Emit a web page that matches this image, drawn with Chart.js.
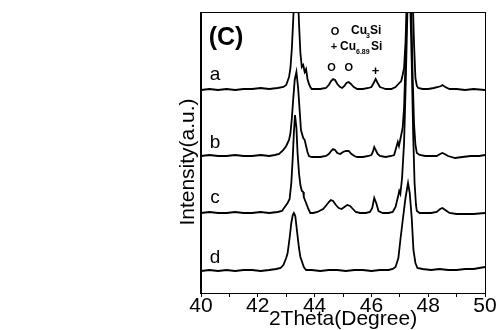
<!DOCTYPE html>
<html><head><meta charset="utf-8">
<script src="https://cdn.jsdelivr.net/npm/chart.js@4.4.1/dist/chart.umd.min.js"></script>
<style>html,body{margin:0;padding:0;background:#fff;}canvas{display:block;}</style>
</head><body>
<canvas id="c" width="498" height="330"></canvas>
<script>
// ---- data (2Theta in degrees, intensity in a.u., curves offset) ----
const xTickValues = [40, 42, 44, 46, 48, 50];
const curveLabels = ['a', 'b', 'c', 'd'];

const thetaA = [40.0,40.3,40.6,40.9,41.2,41.5,41.8,42.1,42.4,42.7,42.9,43.0,43.1,43.15,43.2,43.25,43.3,43.35,43.4,43.45,43.5,43.55,43.6,43.65,43.7,43.75,43.8,43.85,43.9,44.0,44.2,44.4,44.5,44.58,44.65,44.72,44.8,44.9,44.97,45.05,45.12,45.2,45.28,45.38,45.5,45.7,45.9,46.0,46.08,46.15,46.22,46.3,46.4,46.5,46.7,46.85,46.95,47.05,47.1,47.15,47.2,47.25,47.35,47.45,47.5,47.55,47.6,47.65,47.8,48.0,48.2,48.35,48.45,48.5,48.6,48.75,49.0,49.3,49.6,50.0];
const intensityA = [203,204,203,204,203,204,204,205,204,205,206,208,216,225,245,275,310,330,310,270,240,226,228,221,224,214,209,206,204,204,204,205,208,212,214,213,209,206,205,207,210,211,209,206,204,204,205,206,210,214,210,206,205,204,204,206,209,212,218,225,250,290,340,300,250,215,207,205,204,204,205,206,207,208,206,204,204,203,204,203];

const thetaB = [40.0,40.3,40.6,40.9,41.2,41.5,41.8,42.1,42.4,42.6,42.75,42.9,43.0,43.05,43.1,43.15,43.2,43.25,43.3,43.36,43.42,43.48,43.52,43.6,43.65,43.7,43.75,43.8,43.9,44.0,44.2,44.4,44.5,44.58,44.65,44.72,44.8,44.9,45.0,45.1,45.2,45.3,45.4,45.5,45.7,45.9,46.0,46.05,46.1,46.15,46.22,46.3,46.5,46.7,46.8,46.9,46.93,46.97,47.05,47.1,47.15,47.2,47.25,47.32,47.4,47.45,47.5,47.55,47.6,47.7,47.9,48.1,48.3,48.42,48.5,48.58,48.7,48.95,49.2,49.5,49.8,50.0];
const intensityB = [137,138,137,137,138,137,137,138,137,138,139,143,147,150,153,160,175,195,213,221,205,180,163,155,153,147,141,137,136,136,136,137,139,142,144,143,140,139,141,142,142,139,137,136,136,137,138,141,146,143,139,137,136,137,138,148,151,147,158,165,185,230,290,330,290,220,170,148,140,138,137,137,137,139,140,139,137,135,136,137,137,138];

const thetaC = [40.0,40.3,40.6,40.9,41.2,41.5,41.8,42.1,42.4,42.7,42.85,42.95,43.05,43.12,43.18,43.23,43.27,43.31,43.36,43.4,43.45,43.5,43.55,43.6,43.62,43.7,43.78,43.85,43.95,44.1,44.3,44.42,44.5,44.57,44.65,44.75,44.85,44.95,45.05,45.15,45.25,45.35,45.45,45.6,45.8,45.95,46.03,46.1,46.17,46.25,46.4,46.6,46.75,46.85,46.95,46.98,47.02,47.08,47.15,47.2,47.25,47.3,47.36,47.42,47.47,47.52,47.57,47.6,47.7,47.9,48.1,48.3,48.42,48.5,48.6,48.75,49.0,49.3,49.6,50.0];
const intensityC = [80,81,80,80,81,80,80,81,80,81,82,86,90,94,110,135,160,178,165,140,120,108,102,101,96,90,84,80,80,81,84,88,91,93,92,88,85,84,86,88,87,84,81,80,80,81,85,95,90,82,80,80,81,86,98,102,99,115,150,200,260,320,300,230,160,110,88,82,80,80,80,81,84,85,83,80,79,79,79,80];

const thetaD = [40.0,40.3,40.6,40.9,41.2,41.5,41.8,42.1,42.4,42.65,42.8,42.9,43.0,43.05,43.12,43.18,43.23,43.27,43.32,43.38,43.45,43.5,43.56,43.62,43.7,43.9,44.2,44.5,44.8,45.1,45.4,45.7,46.0,46.3,46.6,46.75,46.85,46.95,47.02,47.1,47.2,47.29,47.35,47.42,47.48,47.55,47.62,47.8,48.1,48.4,48.7,49.0,49.3,49.6,50.0];
const intensityD = [22,23,22,23,22,23,23,22,23,24,25,28,35,40,55,70,78,80,77,62,45,36,31,26,23,23,22,23,23,22,23,23,22,23,23,24,26,35,53,72,95,110,100,75,43,30,25,24,23,24,23,23,24,24,26];

function pts(xs, ys) { return xs.map((x, i) => ({ x: x, y: ys[i] })); }

const FONT = "'Liberation Sans', Arial, sans-serif";

const overlay = {
  id: 'overlay',
  afterDraw(chart) {
    const ctx = chart.ctx;
    const a = chart.chartArea;
    const xs = chart.scales.x;
    ctx.save();
    ctx.strokeStyle = '#000';
    ctx.lineWidth = 1;
    ctx.strokeRect(a.left - 0.5, a.top - 0.5, a.right - a.left + 1, a.bottom - a.top + 1);
    ctx.fillStyle = '#000';
    ctx.save();
    ctx.translate(188, 162);
    ctx.rotate(-Math.PI / 2);
    ctx.font = '21px ' + FONT;
    ctx.textAlign = 'center';
    ctx.textBaseline = 'middle';
    ctx.fillText('Intensity(a.u.)', 0, 0);
    ctx.restore();
    ctx.font = 'bold 25px ' + FONT;
    ctx.textAlign = 'center';
    ctx.textBaseline = 'middle';
    ctx.fillText('(C)', 226, 38);
    ctx.font = '19px ' + FONT;
    const labelY = [75, 143, 198, 258];
    curveLabels.forEach((t, i) => ctx.fillText(t, 215, labelY[i]));
    ctx.font = 'bold 11px ' + FONT;
    ctx.fillText('O', 335, 32);
    ctx.fillText('+', 334, 47);
    ctx.textAlign = 'left';
    ctx.font = 'bold 12px ' + FONT;
    ctx.fillText('Cu', 351, 31);
    ctx.fillText('Si', 370, 31);
    ctx.fillText('Cu', 340, 47);
    ctx.fillText('Si', 371, 47);
    ctx.font = 'bold 7px ' + FONT;
    ctx.fillText('3', 366, 36);
    ctx.fillText('6.89', 356, 52);
    ctx.textAlign = 'center';
    ctx.font = 'bold 11px ' + FONT;
    ctx.fillText('O', xs.getPixelForValue(44.6), 68);
    ctx.fillText('O', xs.getPixelForValue(45.2), 68);
    ctx.font = 'bold 13px ' + FONT;
    ctx.fillText('+', xs.getPixelForValue(46.15), 71);
    ctx.restore();
  }
};

const ds = (xs, ys) => ({
  data: pts(xs, ys), borderColor: '#000', borderWidth: 1.8, pointRadius: 0, tension: 0, fill: false
});

new Chart(document.getElementById('c'), {
  type: 'line',
  data: { datasets: [ds(thetaA, intensityA), ds(thetaB, intensityB), ds(thetaC, intensityC), ds(thetaD, intensityD)] },
  options: {
    responsive: false, animation: false,
    layout: { padding: { left: 0, right: 13, top: 13, bottom: 0 } },
    plugins: { legend: { display: false }, tooltip: { enabled: false } },
    scales: {
      x: {
        type: 'linear', min: 40, max: 50,
        afterFit(s) { s.height = 37; },
        afterBuildTicks(s) { s.ticks = []; for (let v = 40; v <= 50; v++) s.ticks.push({ value: v }); },
        ticks: {
          color: '#000', padding: -1, maxRotation: 0, autoSkip: false,
          font: { family: FONT, size: 21, lineHeight: 1 },
          callback: (v) => xTickValues.includes(v) ? String(v) : ''
        },
        grid: { display: true, drawOnChartArea: false, drawTicks: true, tickLength: 4, color: '#000' },
        border: { display: true, color: '#000' },
        title: { display: true, text: '2Theta(Degree)', color: '#000', padding: { top: 0, bottom: 0 }, font: { family: FONT, size: 21, lineHeight: 1 } }
      },
      y: {
        type: 'linear', min: 0, max: 280,
        afterFit(s) { s.width = 201; },
        ticks: { display: false },
        grid: { display: false },
        border: { display: true, color: '#000' }
      }
    }
  },
  plugins: [overlay]
});
</script>
</body></html>
